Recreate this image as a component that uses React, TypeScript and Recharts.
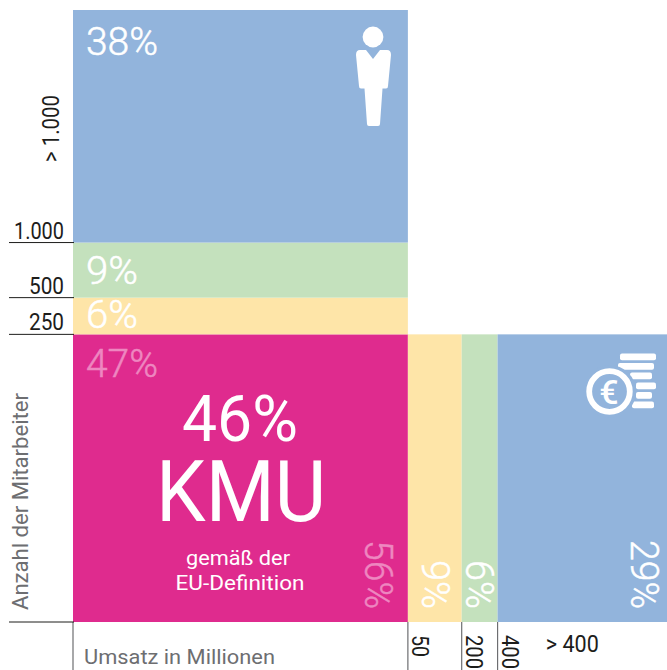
import { ComposedChart, ReferenceArea, Scatter, XAxis, YAxis } from 'recharts';

// share of companies by employees (bottom to top) and by revenue (left to right)
const employeeShares = [47, 6, 9, 38];
const revenueShares = [56, 9, 6, 29];
const employeeTickLabels = ['', '250', '500', '1.000', '> 1.000'];
const revenueTickLabels = ['', '50', '200', '400', '> 400'];
const smeShare = '46%';
const smeName = 'KMU';
const smeNote = ['gemäß der', 'EU-Definition'];
const yTitle = 'Anzahl der Mitarbeiter';
const xTitle = 'Umsatz in Millionen';

const ROW_COLORS = ['#df2b8e', '#fee5a8', '#c4e1bd', '#92b4dc'];
const COL_COLORS = ['#df2b8e', '#fee5a8', '#c4e1bd', '#92b4dc'];
const ROW_BASELINE = [43, 30, 41, 45];
const COL_BASELINE = [43, 40, 32, 40];
const FAINT = '#ee87c0';
const DARK = '#1d1d1b';
const GRAY = '#6d6e71';
const FONT = 'Roboto, sans-serif';

const cumulate = (values: number[]) => {
  const out = [0];
  values.forEach((v) => out.push(out[out.length - 1] + v));
  return out;
};
const rowEdges = cumulate(employeeShares);
const colEdges = cumulate(revenueShares);
const mid = (a: number, b: number) => (a + b) / 2;

const yTicks = [rowEdges[0], rowEdges[1], rowEdges[2], rowEdges[3], mid(rowEdges[3], rowEdges[4])];
const xTicks = [colEdges[0], colEdges[1], colEdges[2], colEdges[3], mid(colEdges[3], colEdges[4]) - 2];
// the two corners of the square, so both axes have something to scale
const corners = [
  { x: colEdges[0], y: rowEdges[0] },
  { x: colEdges[4], y: rowEdges[4] },
];

function PersonIcon() {
  return (
    <g fill="#fff">
      <circle cx={373} cy={37} r={10.4} />
      <path d="M360 50 L366 50 L373 59 L380 50 L387 50 Q391 50 391 55 L388 86 Q388 88.5 386 88.5 L382.5 88.5 L380 124 Q380 126 378 126 L369 126 Q367 126 367 124 L364.5 88.5 L361 88.5 Q359 88.5 359 86 L356 55 Q356 50 360 50 Z" />
    </g>
  );
}

function CoinsIcon() {
  const bars = [
    [620, 353.5, 36],
    [618, 363, 36],
    [630, 372.5, 22],
    [636, 382.5, 20],
    [636, 392, 16],
    [632, 401.5, 22],
  ];
  return (
    <g>
      {bars.map(([x, y, w]) => (
        <rect key={y} x={x} y={y} width={w} height={6.8} rx={2} fill="#fff" />
      ))}
      <circle cx={609.5} cy={391.5} r={26.5} fill="#92b4dc" />
      <circle cx={609.5} cy={391.5} r={20.3} fill="none" stroke="#fff" strokeWidth={5.8} />
      <text x={609} y={403.5} textAnchor="middle" fontFamily={FONT} fontWeight={500} fontSize={34} fill="#fff">
        €
      </text>
    </g>
  );
}

function RowCell(props: any, i: number) {
  const { x, y, width, height } = props;
  const label = `${employeeShares[i]}%`;
  const color = i === 0 ? FAINT : '#fff';
  return (
    <g>
      <rect x={x} y={y} width={width} height={height} fill={ROW_COLORS[i]} />
      <text
        x={86}
        y={y + ROW_BASELINE[i]}
        fontFamily={FONT}
        fontWeight={300}
        fontSize={38}
        fill={color}
        stroke={color}
        strokeWidth={0.5}
        textLength={label.length === 3 ? 72 : 52}
        lengthAdjust="spacingAndGlyphs"
      >
        {label}
      </text>
      {i === 3 && <PersonIcon />}
    </g>
  );
}

function ColCell(props: any, i: number) {
  const { x, y, width, height } = props;
  const bx = x + width - COL_BASELINE[i];
  const label = `${revenueShares[i]}%`;
  const color = i === 0 ? FAINT : '#fff';
  return (
    <g>
      {i > 0 && <rect x={x} y={y} width={width} height={height} fill={COL_COLORS[i]} />}
      {i === 3 && <CoinsIcon />}
      <text
        x={bx}
        y={609}
        transform={`rotate(90 ${bx} 609)`}
        textAnchor="end"
        fontFamily={FONT}
        fontWeight={300}
        fontSize={38}
        fill={color}
        stroke={color}
        strokeWidth={0.5}
        textLength={label.length === 3 ? 69 : 49}
        lengthAdjust="spacingAndGlyphs"
      >
        {label}
      </text>
    </g>
  );
}

function SmeText() {
  return (
    <g fill="#fff" fontFamily={FONT} textAnchor="middle">
      <text x={240} y={441} fontSize={65} textLength={116} lengthAdjust="spacingAndGlyphs">
        {smeShare}
      </text>
      <text x={241} y={521} fontSize={86} textLength={170} lengthAdjust="spacingAndGlyphs">
        {smeName}
      </text>
      <text x={238} y={565} fontSize={21} textLength={104} lengthAdjust="spacingAndGlyphs">
        {smeNote[0]}
      </text>
      <text x={240} y={590} fontSize={21} textLength={129} lengthAdjust="spacingAndGlyphs">
        {smeNote[1]}
      </text>
    </g>
  );
}

function YTick(props: any) {
  const { x, y, index } = props;
  const label = employeeTickLabels[index];
  if (index === 4) {
    return (
      <text
        x={59}
        y={162}
        transform="rotate(-90 59 162)"
        fontFamily={FONT}
        fontSize={23}
        fill={DARK}
        textLength={67}
        lengthAdjust="spacingAndGlyphs"
      >
        {label}
      </text>
    );
  }
  return (
    <g>
      <line x1={9} x2={x + 9} y1={y} y2={y} stroke={DARK} strokeWidth={1} />
      <text
        x={64}
        y={y - 4}
        textAnchor="end"
        fontFamily={FONT}
        fontSize={23}
        fill={DARK}
        textLength={label.length === 5 ? 50 : 35}
        lengthAdjust="spacingAndGlyphs"
      >
        {label}
      </text>
    </g>
  );
}

function XTick(props: any) {
  const { x, index } = props;
  const label = revenueTickLabels[index];
  if (index === 4) {
    return (
      <text
        x={x}
        y={652}
        textAnchor="middle"
        fontFamily={FONT}
        fontSize={23}
        fill={DARK}
        textLength={53}
        lengthAdjust="spacingAndGlyphs"
      >
        {label}
      </text>
    );
  }
  const bx = x + 4;
  return (
    <g>
      <line x1={x} x2={x} y1={622} y2={670} stroke={GRAY} strokeWidth={1.2} />
      <text
        x={bx}
        y={635}
        transform={`rotate(90 ${bx} 635)`}
        fontFamily={FONT}
        fontSize={23}
        fill={DARK}
        textLength={label.length === 2 ? 22 : 34}
        lengthAdjust="spacingAndGlyphs"
      >
        {label}
      </text>
    </g>
  );
}

export default function App() {
  return (
    <div style={{ position: 'absolute', left: 0, top: 0, width: 667, height: 670, overflow: 'hidden' }}>
      <ComposedChart width={667} height={670} margin={{ top: 10, right: -4, bottom: 0, left: 0 }}>
        <XAxis
          type="number"
          dataKey="x"
          domain={[0, 100]}
          ticks={xTicks}
          interval={0}
          height={48}
          axisLine={false}
          tickLine={false}
          tick={XTick}
          label={() => (
            <text
              x={84}
              y={664}
              fontFamily={FONT}
              fontSize={21}
              fill={GRAY}
              textLength={191}
              lengthAdjust="spacingAndGlyphs"
            >
              {xTitle}
            </text>
          )}
        />
        <YAxis
          type="number"
          dataKey="y"
          domain={[0, 100]}
          ticks={yTicks}
          interval={0}
          width={73}
          axisLine={false}
          tickLine={false}
          tick={YTick}
          label={() => (
            <text
              x={28}
              y={610}
              transform="rotate(-90 28 610)"
              fontFamily={FONT}
              fontSize={22}
              fill={GRAY}
              textLength={217}
              lengthAdjust="spacingAndGlyphs"
            >
              {yTitle}
            </text>
          )}
        />
        <Scatter data={corners} isAnimationActive={false} shape={() => <g />} />
        {employeeShares.map((_, i) => (
          <ReferenceArea
            key={`row-${i}`}
            x1={0}
            x2={colEdges[1]}
            y1={rowEdges[i]}
            y2={rowEdges[i + 1]}
            shape={(p: any) => RowCell(p, i)}
          />
        ))}
        {revenueShares.map((_, i) => (
          <ReferenceArea
            key={`col-${i}`}
            x1={colEdges[i]}
            x2={colEdges[i + 1]}
            y1={0}
            y2={rowEdges[1]}
            shape={(p: any) => ColCell(p, i)}
          />
        ))}
        <ReferenceArea x1={0} x2={colEdges[1]} y1={0} y2={rowEdges[1]} shape={() => <SmeText />} />
      </ComposedChart>
    </div>
  );
}
